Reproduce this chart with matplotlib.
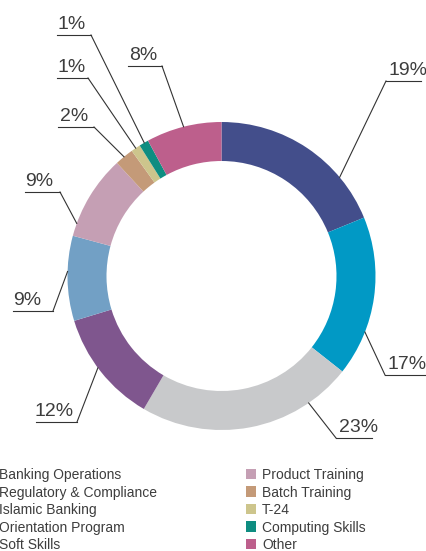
import numpy as np
import matplotlib.pyplot as plt
from matplotlib.patches import Rectangle

plt.rcParams['font.family'] = ['Liberation Sans', 'DejaVu Sans']

categories = ['Banking Operations', 'Regulatory & Compliance', 'Islamic Banking',
              'Orientation Program', 'Soft Skills', 'Product Training',
              'Batch Training', 'T-24', 'Computing Skills', 'Other']
shares = [19, 17, 23, 12, 9, 9, 2, 1, 1, 8]
colors = ['#434e8b', '#0199c5', '#c8c9cb', '#7f568e', '#72a0c5',
          '#c59fb4', '#c49a78', '#cdc58c', '#0e8d81', '#bd5f8c']

W, H = 427, 551
cx, cy, r_out, ring = 221.5, 275, 154, 39
txt_col = '#3d3d3d'

def py(y):
    # picture rows -> data y
    return H - y

fig = plt.figure(figsize=(W / 100, H / 100), dpi=100)
ax = fig.add_axes([0, 0, 1, 1])
wedges, _ = ax.pie(shares, colors=colors, radius=r_out, center=(cx, cy),
                   startangle=90, counterclock=False,
                   wedgeprops=dict(width=ring, linewidth=0))
ax.set_xlim(0, W)
ax.set_ylim(0, H)
ax.set_aspect('equal')
ax.axis('off')

# leader layout: line y, line x0, line x1, text x, elbow on left?, place in wedge
leaders = [(81, 386, 421, 389, True, 0.74),
           (375, 385, 425, 388, True, 0.72),
           (438, 336, 372, 339, True, 0.21),
           (422, 36, 77, 35, False, 0.54),
           (311, 13, 53, 13, False, 0.58),
           (192, 25, 60, 25, False, 0.15),
           (127, 58, 94, 60, False, 0.49),
           (78, 57, 88, 58, False, 0.5),
           (35, 57, 91, 58, False, 0.55),
           (66, 128, 162, 129, False, 0.5)]

for w, v, (ly, x0, x1, tx, left_elbow, f) in zip(wedges, shares, leaders):
    ang = np.deg2rad(w.theta2 - f * (w.theta2 - w.theta1))
    axx = cx + r_out * np.cos(ang)
    axy = cy + r_out * np.sin(ang)
    ex = x0 if left_elbow else x1
    ax.plot([x0, x1], [py(ly), py(ly)], color='#333333', lw=0.8)
    ax.plot([ex, axx], [py(ly), axy], color='#333333', lw=0.8)
    ax.text(tx, py(ly - 6), f'{v}%', fontsize=14, color=txt_col,
            ha='left', va='baseline')

# legend, two columns; first column markers sit past the left edge
for i, (name, c) in enumerate(zip(categories, colors)):
    col, row = divmod(i, 5)
    base = 479 + 17.6 * row
    mx = -17 if col == 0 else 246
    ax.add_patch(Rectangle((mx, py(base)), 10.5, 10.5, facecolor=c,
                           edgecolor='none', clip_on=False))
    ax.text(mx + 16, py(base), name, fontsize=10, color=txt_col,
            ha='left', va='baseline')

fig.savefig('out.png', dpi=100)
